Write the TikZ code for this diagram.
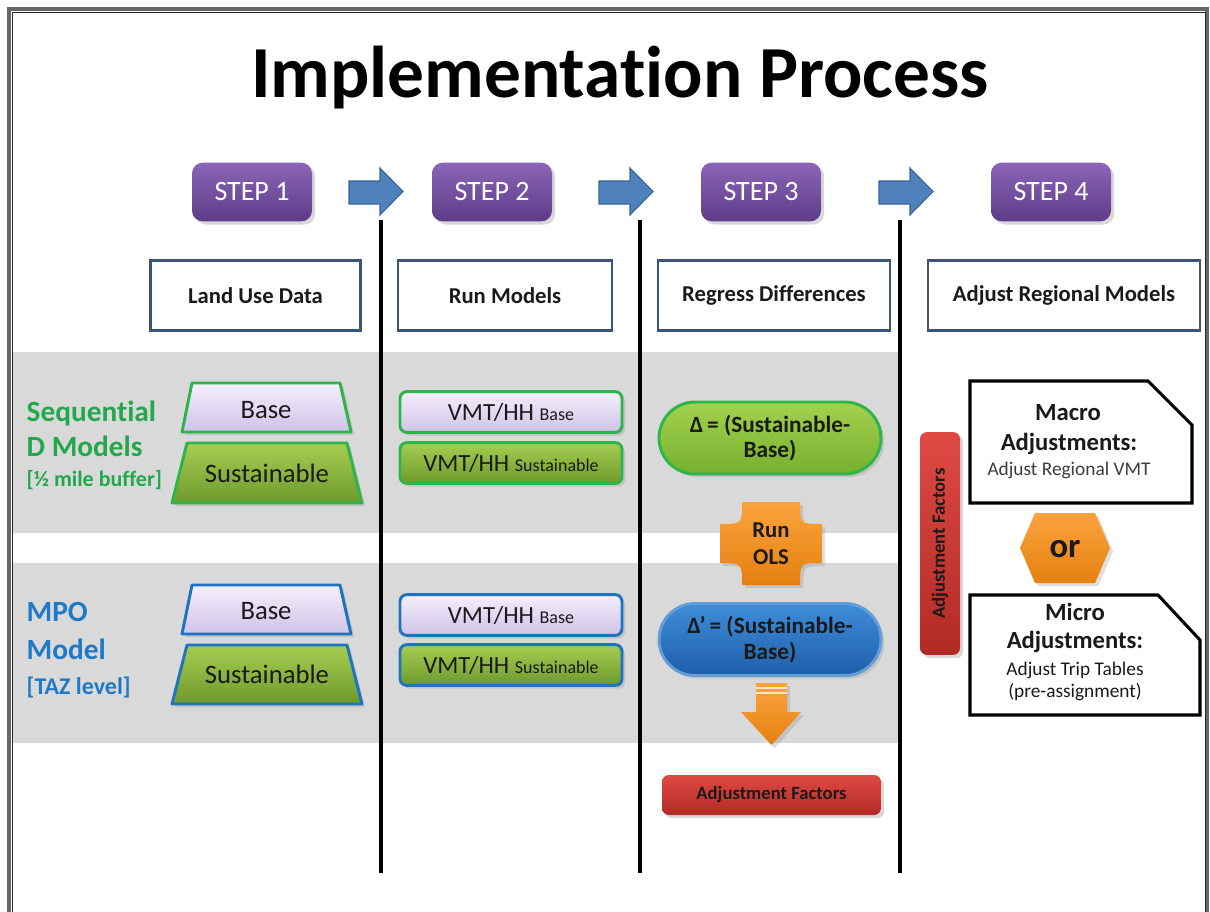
\documentclass[tikz,border=0pt]{standalone}
\usepackage{fontspec}
\setmainfont{Carlito}[Ligatures=NoCommon]
\usetikzlibrary{shadows}
\definecolor{stepTop}{HTML}{8B65B8}
\definecolor{stepBot}{HTML}{5E3C88}
\definecolor{arrowBlue}{HTML}{4F81BD}
\definecolor{arrowEdge}{HTML}{38659A}
\definecolor{headEdge}{HTML}{3B5578}
\definecolor{band}{HTML}{D9D9D9}
\definecolor{gText}{HTML}{22A84C}
\definecolor{bText}{HTML}{1E7AC6}
\definecolor{gEdge}{HTML}{2DB54B}
\definecolor{bEdge}{HTML}{1F74C2}
\definecolor{lavTop}{HTML}{F4F0FB}
\definecolor{lavBot}{HTML}{CFC2E8}
\definecolor{grnTop}{HTML}{A6CD52}
\definecolor{grnBot}{HTML}{6E9A2C}
\definecolor{ovTop}{HTML}{A3D14E}
\definecolor{ovBot}{HTML}{76B02E}
\definecolor{blTop}{HTML}{3F8DDA}
\definecolor{blBot}{HTML}{1F5FAA}
\definecolor{orTop}{HTML}{FAA43E}
\definecolor{orBot}{HTML}{E5800F}
\definecolor{rdTop}{HTML}{DE4A43}
\definecolor{rdBot}{HTML}{B22A25}
\definecolor{ink}{HTML}{1A1A1A}
\newcommand{\subfs}{\fontsize{13.5}{14}\selectfont}
\tikzset{
  stepbox/.style={rounded corners=8pt, top color=stepTop, bottom color=stepBot, draw=none,
    minimum width=90pt, minimum height=44pt, text=white, inner sep=0pt,
    font=\fontsize{21}{24}\selectfont, drop shadow={opacity=0.3}},
  headbox/.style={draw=headEdge, line width=2.2pt, fill=white, minimum height=53pt,
    inner sep=0pt, font=\fontsize{17}{20}\selectfont\bfseries, text=ink},
  blockarrow/.style={fill=arrowBlue, draw=arrowEdge, line width=0.8pt},
  divider/.style={line width=3pt, black},
  lavfill/.style={top color=lavTop, bottom color=lavBot},
  grnfill/.style={top color=grnTop, bottom color=grnBot},
  gline/.style={draw=gEdge, line width=2.2pt},
  bline/.style={draw=bEdge, line width=2.2pt},
  trapshape/.style={line join=round, drop shadow={opacity=0.25}},
  traptext/.style={anchor=base, font=\fontsize{20}{22}\selectfont, text=ink},
  vmtbox/.style={rounded corners=5pt, minimum width=166.5pt, minimum height=30.5pt, inner sep=0pt,
    font=\fontsize{18.5}{20}\selectfont, text=ink, drop shadow={opacity=0.25}},
  stadium/.style={rounded corners=27pt, minimum width=166.5pt, minimum height=54pt, inner sep=0pt,
    align=center, font=\fontsize{17.5}{19}\selectfont\bfseries, text=ink, line width=2.2pt,
    drop shadow={opacity=0.25}},
  orangefill/.style={top color=orTop, bottom color=orBot, drop shadow={opacity=0.25}},
  redbox/.style={top color=rdTop, bottom color=rdBot, rounded corners=5pt, inner sep=0pt,
    font=\fontsize{14}{16}\selectfont\bfseries, text=ink, drop shadow={opacity=0.3}},
  sidelabel/.style={anchor=base west, font=\fontsize{22}{24}\selectfont\bfseries},
  sidesmall/.style={anchor=base west, font=\fontsize{16.5}{20}\selectfont\bfseries},
  adjbox/.style={draw=black, line width=2.3pt, fill=white, line join=miter},
  adjtitle/.style={anchor=base, font=\fontsize{18.5}{20}\selectfont\bfseries, text=ink},
  adjtext/.style={anchor=base, font=\fontsize{14.5}{16}\selectfont, text=ink!85},
}
\begin{document}
\begin{tikzpicture}[x=0.75pt,y=-0.75pt]
\useasboundingbox (0,0) rectangle (1210,911);
\fill[white] (0,0) rectangle (1210,911);
% gray bands
\fill[band] (12,352) rectangle (900,533);
\fill[band] (12,563) rectangle (900,743);
% outer frame
\draw[line width=2.6pt, black!60] (9,960) -- (9,9) -- (1207,9) -- (1207,960);
\draw[line width=0.5pt, black!85] (12,960) -- (12,12) -- (1205,12) -- (1205,960);

% title
\node[anchor=base, font=\fontsize{55}{60}\selectfont\bfseries, text=black] (title) at (620,97) {Implementation Process};

% steps
\node[stepbox] (s1) at (252,192) {STEP 1};
\node[stepbox] (s2) at (492,192) {STEP 2};
\node[stepbox] (s3) at (761,192) {STEP 3};
\node[stepbox] (s4) at (1051,192) {STEP 4};

% blue arrows
\foreach \ax in {349,599,879}{
  \path[blockarrow] (\ax,181) -- (\ax+31,181) -- (\ax+31,168) -- (\ax+54,191.5) -- (\ax+31,215) -- (\ax+31,204) -- (\ax,204) -- cycle;
}

% dividers
\coordinate (d1t) at (381,220); \coordinate (d1b) at (381,873);
\coordinate (d2t) at (640,220); \coordinate (d2b) at (640,873);
\coordinate (d3t) at (900,220); \coordinate (d3b) at (900,873);
\draw[divider] (d1t) -- (d1b);
\draw[divider] (d2t) -- (d2b);
\draw[divider] (d3t) -- (d3b);

% header boxes
\node[headbox, minimum width=158pt] (h1) at (255.5,295.5) {Land Use Data};
\node[headbox, minimum width=160.5pt] (h2) at (505,295.5) {Run Models};
\node[headbox, minimum width=174pt] (h3) at (774,295.5) {Regress Differences};
\node[headbox, minimum width=204pt] (h4) at (1064,295.5) {Adjust Regional Models};

% left labels
\node[sidelabel, text=gText] (lseq) at (22,421) {Sequential};
\node[sidelabel, text=gText] (ldm) at (22,456) {D Models};
\node[sidesmall, text=gText] (lbuf) at (22,486) {[½ mile buffer]};
\node[sidelabel, text=bText] (lmpo) at (22,621) {MPO};
\node[sidelabel, text=bText] (lmod) at (22,659) {Model};
\node[sidesmall, text=bText, font=\fontsize{18}{20}\selectfont\bfseries] (ltaz) at (22,694) {[TAZ level]};

% trapezoids row 1
\path[trapshape, lavfill, gline] (192,383) -- (340,383) -- (351,432) -- (182,432) -- cycle;
\node[traptext] (tb1) at (266,418) {Base};
\path[trapshape, grnfill, gline] (187,443) -- (347,443) -- (362,503) -- (172,503) -- cycle;
\node[traptext] (ts1) at (267,482) {Sustainable};
% trapezoids row 2
\path[trapshape, lavfill, bline] (192,585) -- (340,585) -- (351,634) -- (182,634) -- cycle;
\node[traptext] (tb2) at (266,619) {Base};
\path[trapshape, grnfill, bline] (187,645) -- (347,645) -- (362,704) -- (172,704) -- cycle;
\node[traptext] (ts2) at (267,683) {Sustainable};

% VMT boxes
\node[vmtbox, lavfill, gline] (v1b) at (511,412) {VMT/HH {\subfs Base}};
\node[vmtbox, grnfill, gline] (v1s) at (511,463) {VMT/HH {\subfs Sustainable}};
\node[vmtbox, lavfill, bline] (v2b) at (511,615) {VMT/HH {\subfs Base}};
\node[vmtbox, grnfill, bline] (v2s) at (511,665) {VMT/HH {\subfs Sustainable}};

% stadiums
\node[stadium, top color=ovTop, bottom color=ovBot, draw=gEdge] (delta) at (770,438) {Δ\,= (Sustainable-\\Base)};
\node[stadium, top color=blTop, bottom color=blBot, draw=bEdge!70!white] (deltap) at (770,639.5) {Δ’\,= (Sustainable-\\Base)};

% Run OLS plaque
\path[orangefill] (742,502) -- (800,502) .. controls (800,524) .. (822,524) -- (822,563)
  .. controls (800,563) .. (800,585) -- (742,585) .. controls (742,563) .. (720,563)
  -- (720,524) .. controls (742,524) .. (742,502) -- cycle;
\node[align=center, font=\fontsize{17}{20}\selectfont\bfseries, text=ink] (ols) at (771,543.5) {Run\\OLS};

% orange down arrow
\path[orangefill] (756,683) -- (787,683) -- (787,712) -- (801,712) -- (771.5,745) -- (741,712) -- (756,712) -- cycle;
\draw[white!80!orange, line width=1pt] (756,688) -- (787,688);
\draw[white!80!orange, line width=1pt] (756,693) -- (787,693);

% adjustment factors (step 3)
\node[redbox, minimum width=164pt, minimum height=30pt] (af) at (771.5,795) {Adjustment Factors};

% adjustment factors vertical (step 4)
\node[redbox, minimum width=30pt, minimum height=167pt] (afv) at (940,543.5) {};
\node[rotate=90, font=\fontsize{14}{16}\selectfont\bfseries, text=ink] (afvt) at (940,543.5) {Adjustment Factors};

% Macro box
\path[adjbox] (970,381) -- (1148,381) -- (1192,425) -- (1192,503) -- (970,503) -- cycle;
\node[adjtitle] (mac1) at (1068,420) {Macro};
\node[adjtitle] (mac2) at (1069,450) {Adjustments:};
\node[adjtext] (mac3) at (1069,475) {Adjust Regional VMT};

% or hexagon
\path[orangefill] (1035,513) -- (1095,513) -- (1110,548) -- (1095,583) -- (1035,583) -- (1020,548) -- cycle;
\node[anchor=base, font=\fontsize{26}{28}\selectfont\bfseries, text=ink] (or) at (1065,557) {or};

% Micro box
\path[adjbox] (970,595) -- (1158,595) -- (1200,640) -- (1200,715) -- (970,715) -- cycle;
\node[adjtitle] (mic1) at (1075,620) {Micro};
\node[adjtitle] (mic2) at (1075,648) {Adjustments:};
\node[adjtext, text=ink] (mic3) at (1075,675) {Adjust Trip Tables};
\node[adjtext, text=ink] (mic4) at (1075,697) {(pre-assignment)};
\end{tikzpicture}
\end{document}
